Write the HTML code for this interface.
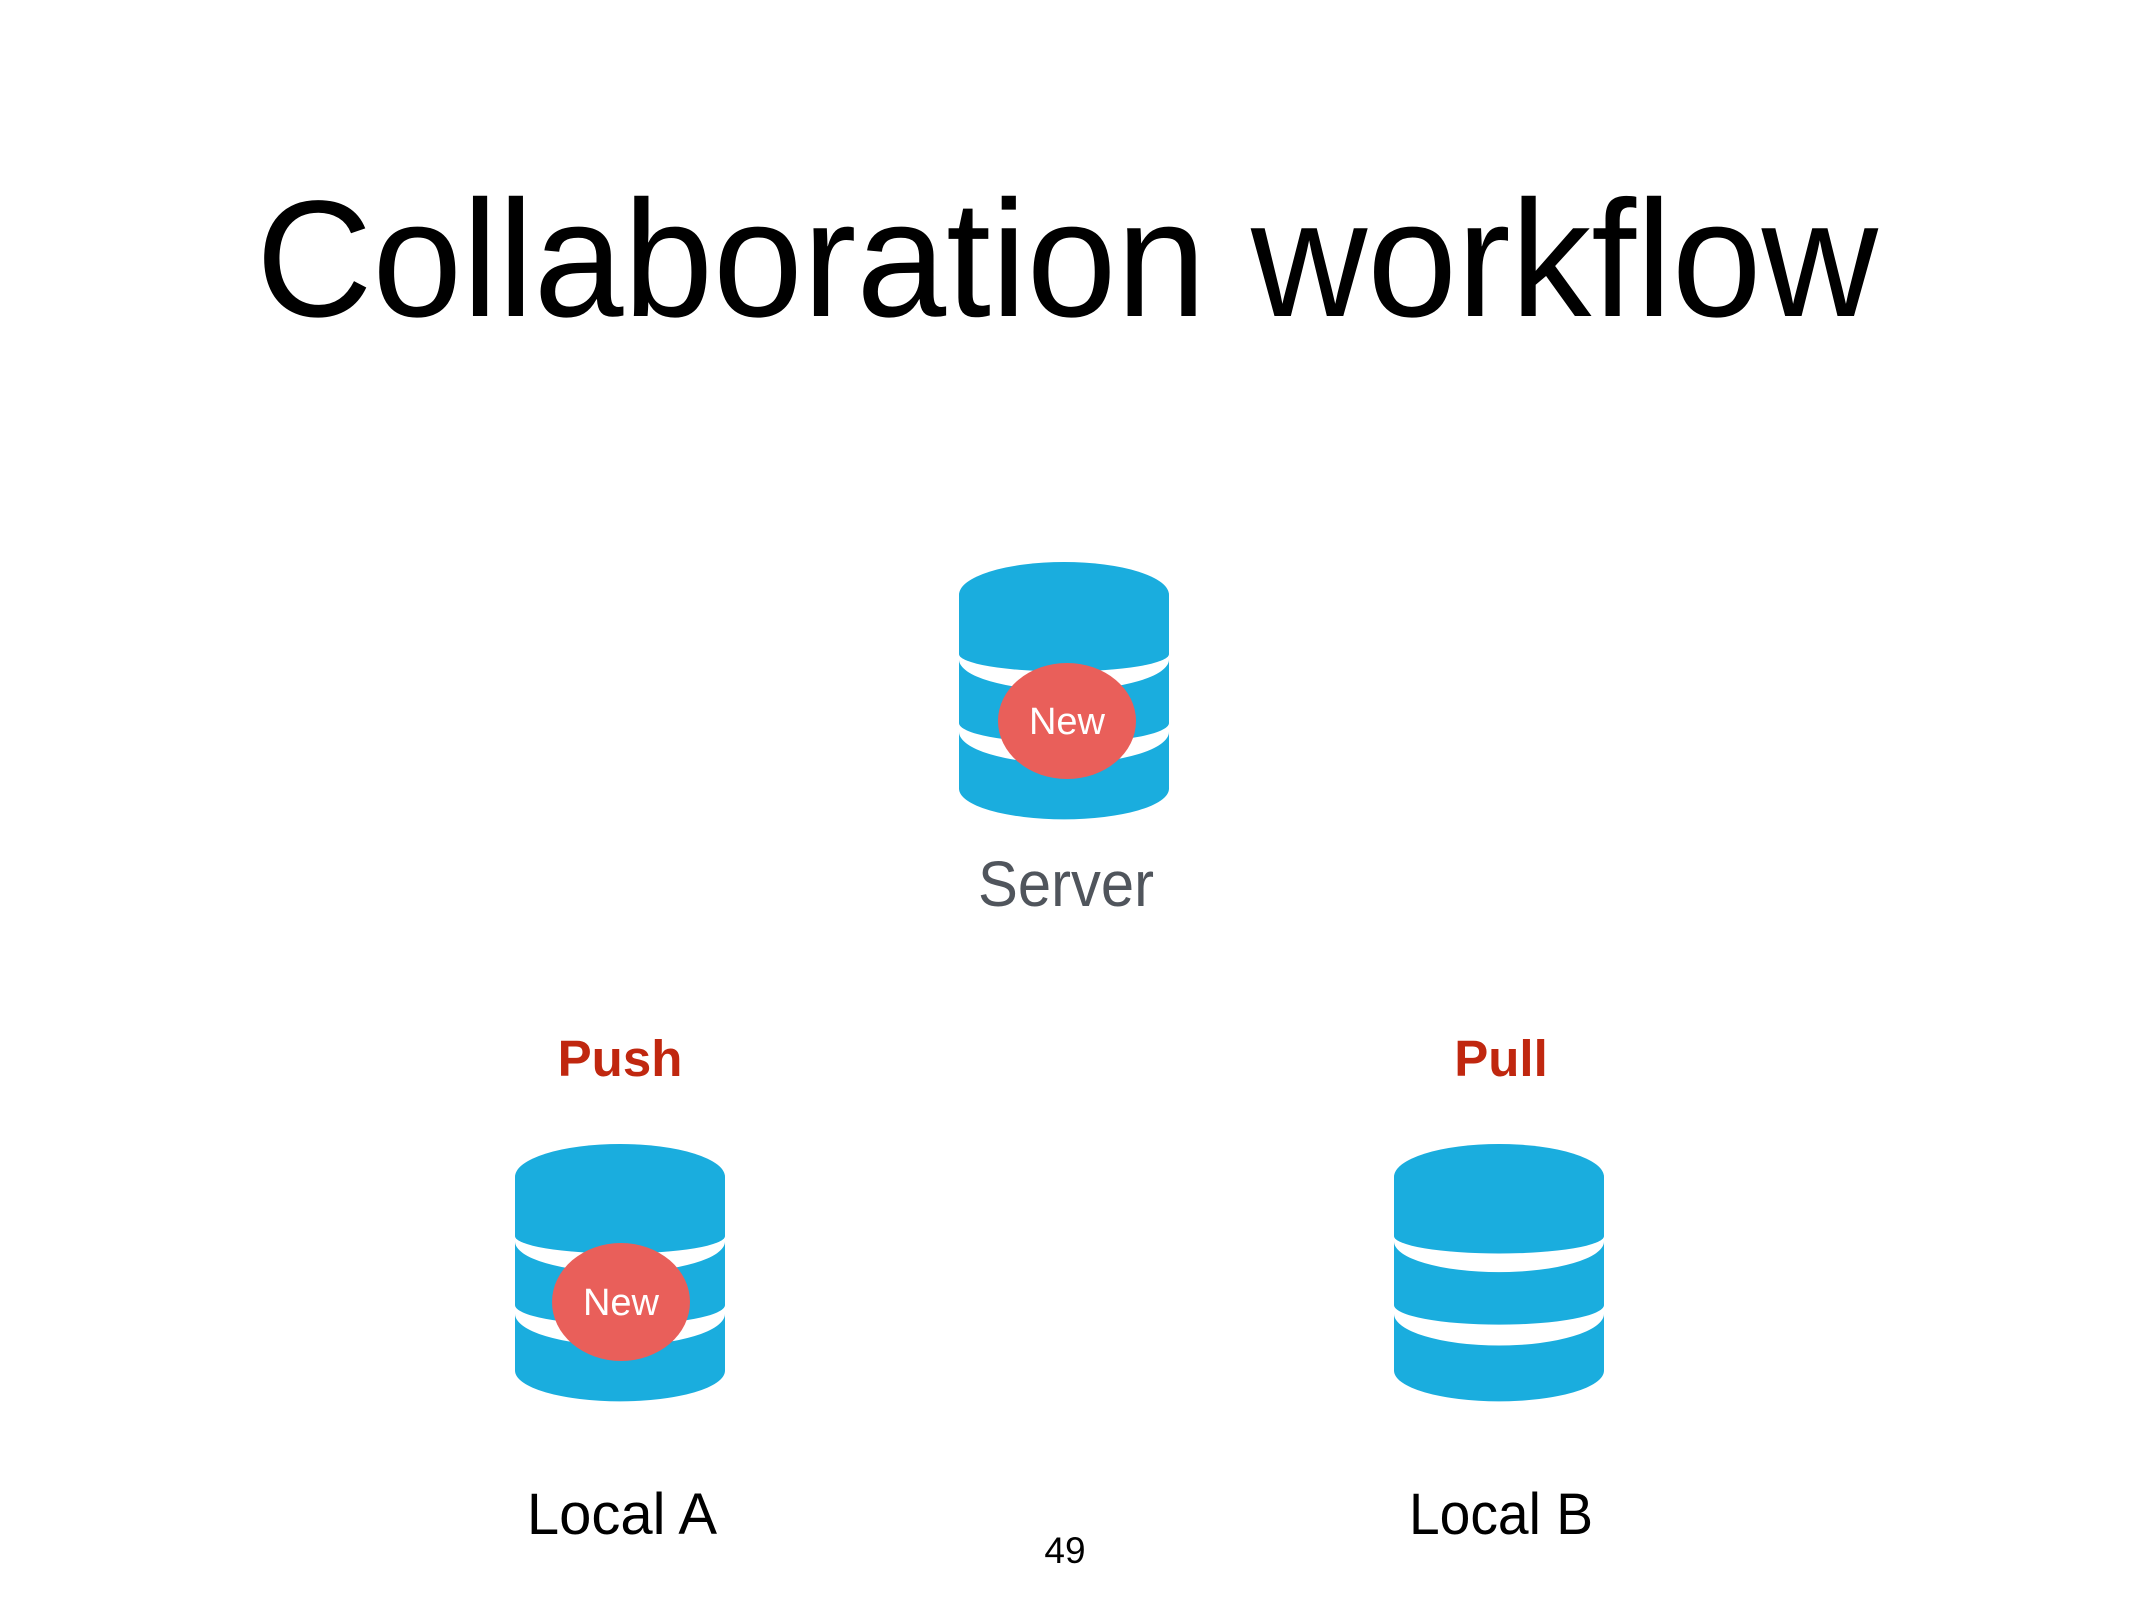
<!DOCTYPE html>
<html><head><meta charset="utf-8"><style>
html,body{margin:0;padding:0;background:#fff;}
svg{display:block;}
</style></head><body>
<svg width="2134" height="1600" viewBox="0 0 2134 1600" xmlns="http://www.w3.org/2000/svg">
<defs>
<g id="db" fill="#1AADDE">
<path d="M0,30 A105,30 0 0 1 210,30 L210,84 A105,16 0 0 1 0,84 Z"/>
<path d="M0,89 A105,28 0 0 0 210,89 L210,147 A105,18 0 0 1 0,147 Z"/>
<path d="M0,155 A105,29 0 0 0 210,155 L210,207 A105,28 0 0 1 0,207 Z"/>
</g>
</defs>
<text x="256" y="316" font-family="Liberation Sans, sans-serif" font-size="166" fill="#000" textLength="1622" lengthAdjust="spacingAndGlyphs">Collaboration workflow</text>

<g transform="translate(959,562) scale(1,1.095)"><use href="#db"/></g>
<ellipse cx="1067" cy="721" rx="69" ry="58" fill="#E95F5A"/>
<text x="1067" y="734" text-anchor="middle" font-family="Liberation Sans, sans-serif" font-size="38" fill="#fff">New</text>
<text x="1066" y="906" text-anchor="middle" font-family="Liberation Sans, sans-serif" font-size="64" fill="#50555c" textLength="176" lengthAdjust="spacingAndGlyphs">Server</text>

<text x="620" y="1076" text-anchor="middle" font-family="Liberation Sans, sans-serif" font-weight="bold" font-size="51" fill="#C0270F">Push</text>
<g transform="translate(515,1144) scale(1,1.095)"><use href="#db"/></g>
<ellipse cx="621" cy="1302" rx="69" ry="59" fill="#E95F5A"/>
<text x="621" y="1315" text-anchor="middle" font-family="Liberation Sans, sans-serif" font-size="38" fill="#fff">New</text>
<text x="622" y="1534" text-anchor="middle" font-family="Liberation Sans, sans-serif" font-size="58" fill="#000">Local A</text>

<text x="1501" y="1076" text-anchor="middle" font-family="Liberation Sans, sans-serif" font-weight="bold" font-size="51" fill="#C0270F">Pull</text>
<g transform="translate(1394,1144) scale(1,1.095)"><use href="#db"/></g>
<text x="1501" y="1534" text-anchor="middle" font-family="Liberation Sans, sans-serif" font-size="58" fill="#000" textLength="184" lengthAdjust="spacingAndGlyphs">Local B</text>

<text x="1065" y="1563" text-anchor="middle" font-family="Liberation Sans, sans-serif" font-size="37" fill="#000">49</text>
</svg>
</body></html>
